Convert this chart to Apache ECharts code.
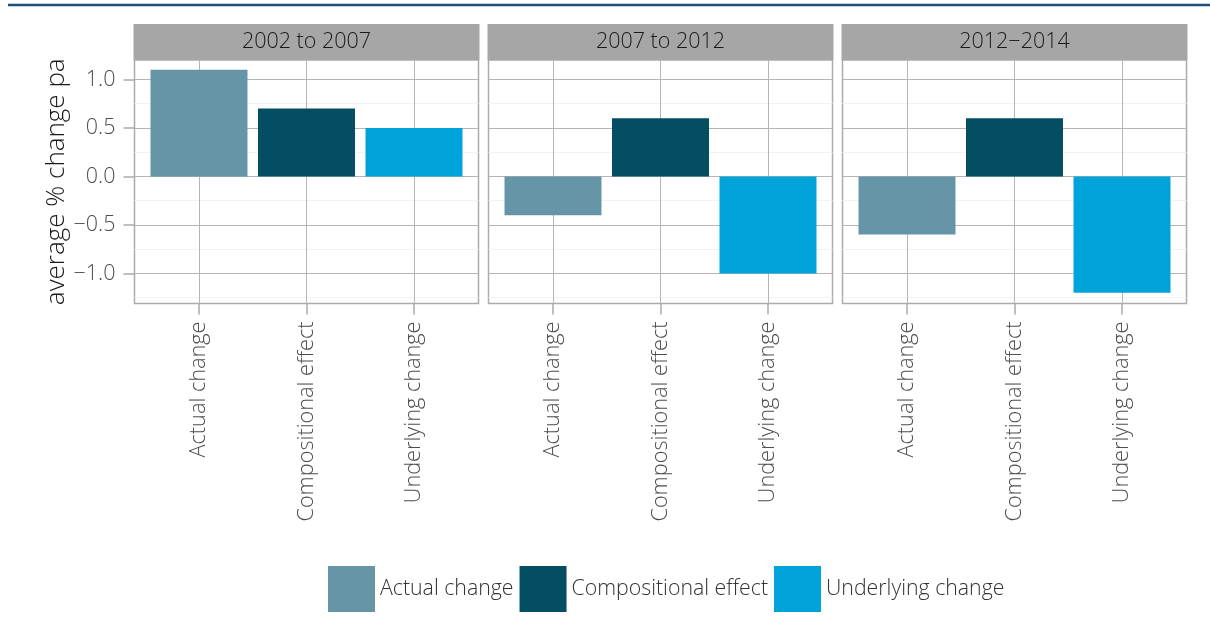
<!DOCTYPE html>
<html>
<head>
<meta charset="utf-8">
<script src="https://cdn.jsdelivr.net/npm/echarts@6/dist/echarts.min.js"></script>
<style>
html, body { margin: 0; padding: 0; background: #fff; }
#main { width: 1210px; height: 633px; }
</style>
</head>
<body>
<div id="main"></div>
<script>
// facets and components
var periods = ['2002 to 2007', '2007 to 2012', '2012\u22122014'];
var components = ['Actual change', 'Compositional effect', 'Underlying change'];
// average % change pa, one value per period
var actualChange = [1.1, -0.4, -0.6];
var compositionalEffect = [0.7, 0.6, 0.6];
var underlyingChange = [0.5, -1.0, -1.2];
// axis ticks
var yTicks = [-1.0, -0.5, 0, 0.5, 1.0];
var yMinorTicks = [-1.25, -0.75, -0.25, 0.25, 0.75];
var xTicks = [1, 2, 3];

var values = [actualChange, compositionalEffect, underlyingChange];
var colors = ['#6795a8', '#034e63', '#00a3d9'];
var font = 'Open Sans';

// panel layout
var panelLeft = [134.5, 488.5, 842.5];
var panelWidth = 344;
var panelTop = 60;
var panelHeight = 243.5;

var grids = [], xAxes = [], yAxes = [], series = [], graphics = [];

graphics.push({
  type: 'line',
  shape: { x1: 8, y1: 5, x2: 1210, y2: 5 },
  style: { stroke: '#1f4e7a', lineWidth: 2.5 }
});

for (var p = 0; p < periods.length; p++) {
  grids.push({
    left: panelLeft[p], top: panelTop, width: panelWidth, height: panelHeight,
    show: true, backgroundColor: '#fff', borderColor: '#ababab', borderWidth: 1.5
  });

  xAxes.push({
    type: 'value', gridIndex: p, min: 0.4, max: 3.6, position: 'bottom',
    axisLine: { show: false, onZero: false },
    axisTick: { customValues: xTicks, length: 11, lineStyle: { color: '#ababab', width: 1.5 } },
    axisLabel: {
      customValues: xTicks, rotate: 90, margin: 18,
      fontSize: 21.7, fontFamily: font, fontWeight: 300, color: '#4d4d4d',
      formatter: function (v) { return components[Math.round(v) - 1]; }
    },
    splitLine: { show: true, lineStyle: { color: '#b5b5b5', width: 1 } }
  });

  // minor grid lines
  yAxes.push({
    type: 'value', gridIndex: p, min: -1.31, max: 1.2, position: 'left',
    axisLine: { show: false, onZero: false },
    axisTick: { show: false, customValues: yMinorTicks },
    axisLabel: { show: false, customValues: yMinorTicks },
    splitLine: { show: true, lineStyle: { color: '#f2f2f2', width: 1 } }
  });

  // major axis
  yAxes.push({
    type: 'value', gridIndex: p, min: -1.31, max: 1.2, position: 'left',
    name: p === 0 ? 'average % change pa' : '',
    nameLocation: 'middle', nameGap: 63,
    nameTextStyle: { fontSize: 26, fontFamily: font, fontWeight: 300, color: '#1a1a1a' },
    axisLine: { show: false, onZero: false },
    axisTick: { show: p === 0, customValues: yTicks, length: 11, lineStyle: { color: '#ababab', width: 1.5 } },
    axisLabel: {
      show: p === 0, customValues: yTicks, margin: 19,
      fontSize: 21.5, fontFamily: font, fontWeight: 300, color: '#4d4d4d',
      formatter: function (v) { return v.toFixed(1).replace('-', '\u2212'); }
    },
    splitLine: { show: true, lineStyle: { color: '#b5b5b5', width: 1 } }
  });

  for (var k = 0; k < components.length; k++) {
    series.push({
      type: 'bar', name: components[k],
      xAxisIndex: p, yAxisIndex: p * 2 + 1,
      data: [[xTicks[k], values[k][p]]],
      barWidth: 97, barGap: '-100%',
      itemStyle: { color: colors[k] },
      silent: true
    });
  }

  // facet strip
  graphics.push({
    type: 'rect',
    shape: { x: panelLeft[p] - 1, y: 24, width: panelWidth + 2, height: 36 },
    style: { fill: '#a6a6a6' }
  });
  graphics.push({
    type: 'text',
    x: panelLeft[p] + panelWidth / 2, y: 42,
    style: {
      text: periods[p], fill: '#1a1a1a', align: 'center', verticalAlign: 'middle',
      font: '300 21.5px "Open Sans"'
    }
  });
}

var myChart = echarts.init(document.getElementById('main'));
var option = {
  backgroundColor: '#fff',
  animation: false,
  grid: grids,
  xAxis: xAxes,
  yAxis: yAxes,
  series: series,
  graphic: graphics,
  legend: {
    data: components,
    left: 323, top: 561,
    icon: 'rect', itemWidth: 47, itemHeight: 46, itemGap: 6,
    textStyle: { fontSize: 21.3, fontFamily: font, fontWeight: 300, color: '#333' },
    selectedMode: false
  }
};
option && myChart.setOption(option);
</script>
</body>
</html>
